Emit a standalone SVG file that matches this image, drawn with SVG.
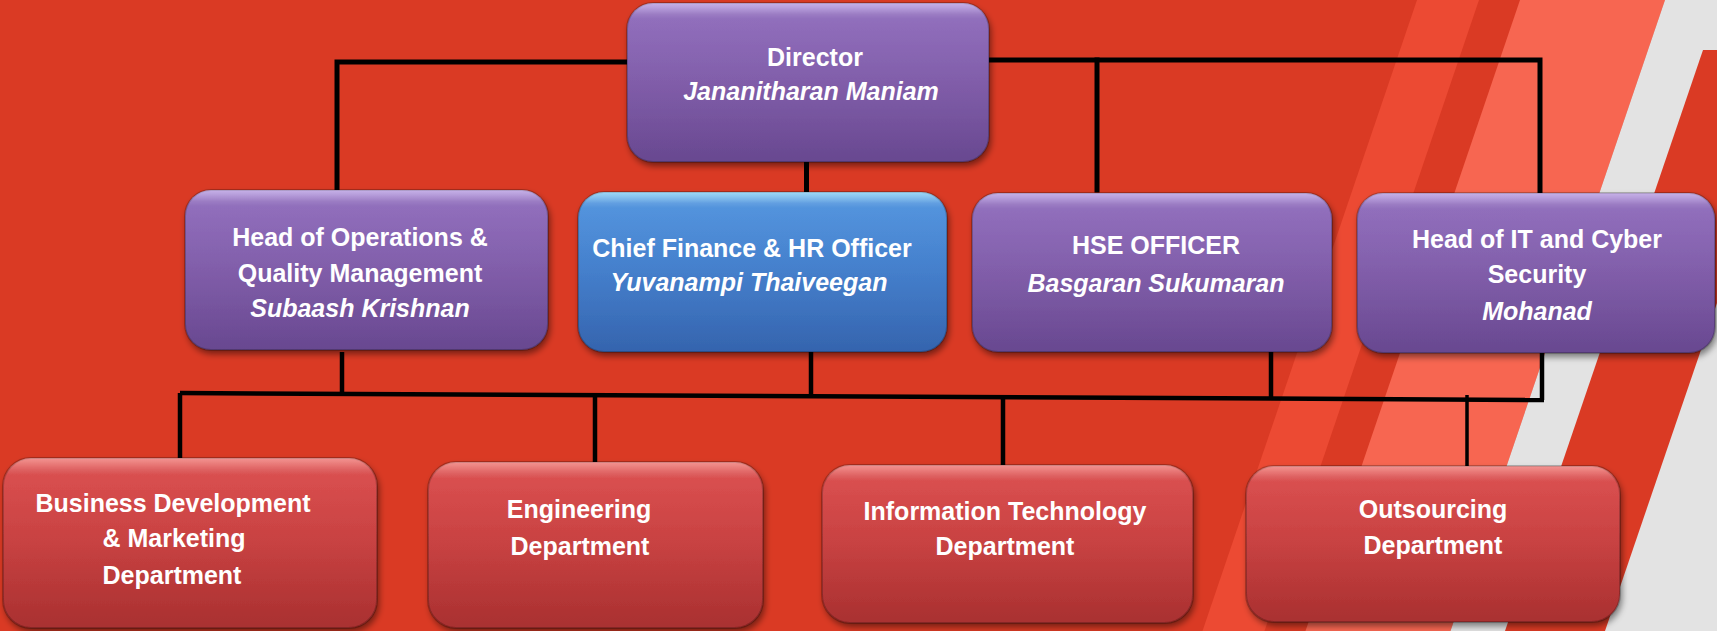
<svg xmlns="http://www.w3.org/2000/svg" width="1717" height="631" viewBox="0 0 1717 631">
<defs>
<style>
.t{font-family:"Liberation Sans",Arial,sans-serif;font-size:25px;font-weight:bold;fill:#ffffff;text-anchor:middle}
.i{font-style:italic}
.c{stroke:#000000;fill:none;stroke-width:5;stroke-linecap:square}
.c2{stroke:#000000;fill:none;stroke-width:4.5}
.box{filter:url(#sh);stroke:#000000;stroke-opacity:0.22;stroke-width:2}
.pur{fill:url(#gp)}
.blu{fill:url(#gb)}
.red{fill:url(#gr)}
.hl{fill:url(#gh);stroke:none}
</style>
<linearGradient id="gp" x1="0" y1="0" x2="0" y2="1">
<stop offset="0" stop-color="#a888dc"/>
<stop offset="0.07" stop-color="#8c68ba"/>
<stop offset="0.5" stop-color="#7d59a7"/>
<stop offset="1" stop-color="#684890"/>
</linearGradient>
<linearGradient id="gb" x1="0" y1="0" x2="0" y2="1">
<stop offset="0" stop-color="#6cc4f2"/>
<stop offset="0.07" stop-color="#4a8fdc"/>
<stop offset="0.5" stop-color="#3f7bca"/>
<stop offset="1" stop-color="#3564ae"/>
</linearGradient>
<linearGradient id="gr" x1="0" y1="0" x2="0" y2="1">
<stop offset="0" stop-color="#ec5a56"/>
<stop offset="0.07" stop-color="#d84646"/>
<stop offset="0.5" stop-color="#c63c3c"/>
<stop offset="1" stop-color="#a93030"/>
</linearGradient>
<linearGradient id="gh" x1="0" y1="0" x2="0" y2="1">
<stop offset="0" stop-color="#ffffff" stop-opacity="0.35"/>
<stop offset="0.1" stop-color="#ffffff" stop-opacity="0.05"/>
<stop offset="1" stop-color="#ffffff" stop-opacity="0"/>
</linearGradient>
<filter id="sh" x="-10%" y="-10%" width="125%" height="135%">
<feDropShadow dx="2" dy="4" stdDeviation="3" flood-color="#000000" flood-opacity="0.45"/>
</filter>
</defs>

<g id="background">
<rect x="0" y="0" width="1717" height="631" fill="#da3a24"/>
<polygon points="1417,0 1479,0 1264.5,631 1202.5,631" fill="#ec4a33"/>
<polygon points="1520,0 1665,0 1450.5,631 1305.5,631" fill="#f76651"/>
<polygon points="1665,0 1717,0 1717,631 1450.5,631" fill="#e3e3e3"/>
<polygon points="1703,50 1717,50 1717,303 1605,631 1505,631" fill="#da3a24"/>
</g>

<g id="connectors">
<path class="c" d="M627 62 L337 62 L337 190"/>
<path class="c" d="M989 60 L1540 60 L1540 197"/>
<path class="c" d="M1097 60 L1097 190"/>
<path class="c" d="M806.5 162 L806.5 193"/>
<path class="c2" d="M342 352 L342 393"/>
<path class="c2" d="M180 393 L1544 400"/>
<path class="c2" d="M180 393 L180 459"/>
<path class="c2" d="M595 395 L595 463"/>
<path class="c2" d="M811 352 L811 396"/>
<path class="c2" d="M1003 397 L1003 466"/>
<path class="c2" d="M1271 352 L1271 398"/>
<path class="c2" d="M1542 353 L1542 400"/>
<path class="c2" style="stroke-width:3.5" d="M1467 395 L1467 467"/>
</g>

<g id="director">
<rect class="box pur" x="627" y="3" width="362" height="159" rx="26"/>
<rect class="hl" x="627" y="3" width="362" height="159" rx="26"/>
<text class="t" x="815" y="66">Director</text>
<text class="t i" x="811" y="100">Jananitharan Maniam</text>
</g>

<g id="ops">
<rect class="box pur" x="185" y="190" width="363" height="160" rx="26"/>
<rect class="hl" x="185" y="190" width="363" height="160" rx="26"/>
<text class="t" x="360" y="246">Head of Operations &amp;</text>
<text class="t" x="360" y="282">Quality Management</text>
<text class="t i" x="360" y="317">Subaash Krishnan</text>
</g>

<g id="cfo">
<rect class="box blu" x="578" y="192" width="369" height="160" rx="26"/>
<rect class="hl" x="578" y="192" width="369" height="160" rx="26"/>
<text class="t" x="752" y="257">Chief Finance &amp; HR Officer</text>
<text class="t i" x="749" y="291">Yuvanampi Thaiveegan</text>
</g>

<g id="hse">
<rect class="box pur" x="972" y="193" width="360" height="159" rx="26"/>
<rect class="hl" x="972" y="193" width="360" height="159" rx="26"/>
<text class="t" x="1156" y="254">HSE OFFICER</text>
<text class="t i" x="1156" y="292">Basgaran Sukumaran</text>
</g>

<g id="it-head">
<rect class="box pur" x="1357" y="193" width="358" height="160" rx="26"/>
<rect class="hl" x="1357" y="193" width="358" height="160" rx="26"/>
<text class="t" x="1537" y="248">Head of IT and Cyber</text>
<text class="t" x="1537" y="283">Security</text>
<text class="t i" x="1537" y="320">Mohanad</text>
</g>

<g id="bd">
<rect class="box red" x="3" y="458" width="374" height="170" rx="28"/>
<rect class="hl" x="3" y="458" width="374" height="170" rx="28"/>
<text class="t" x="173" y="512">Business Development</text>
<text class="t" x="174" y="547">&amp; Marketing</text>
<text class="t" x="172" y="584">Department</text>
</g>

<g id="eng">
<rect class="box red" x="428" y="462" width="335" height="166" rx="28"/>
<rect class="hl" x="428" y="462" width="335" height="166" rx="28"/>
<text class="t" x="579" y="518">Engineering</text>
<text class="t" x="580" y="555">Department</text>
</g>

<g id="itdept">
<rect class="box red" x="822" y="465" width="371" height="158" rx="28"/>
<rect class="hl" x="822" y="465" width="371" height="158" rx="28"/>
<text class="t" x="1005" y="520">Information Technology</text>
<text class="t" x="1005" y="555">Department</text>
</g>

<g id="outsourcing">
<rect class="box red" x="1246" y="466" width="374" height="156" rx="28"/>
<rect class="hl" x="1246" y="466" width="374" height="156" rx="28"/>
<text class="t" x="1433" y="518">Outsourcing</text>
<text class="t" x="1433" y="554">Department</text>
</g>
</svg>
